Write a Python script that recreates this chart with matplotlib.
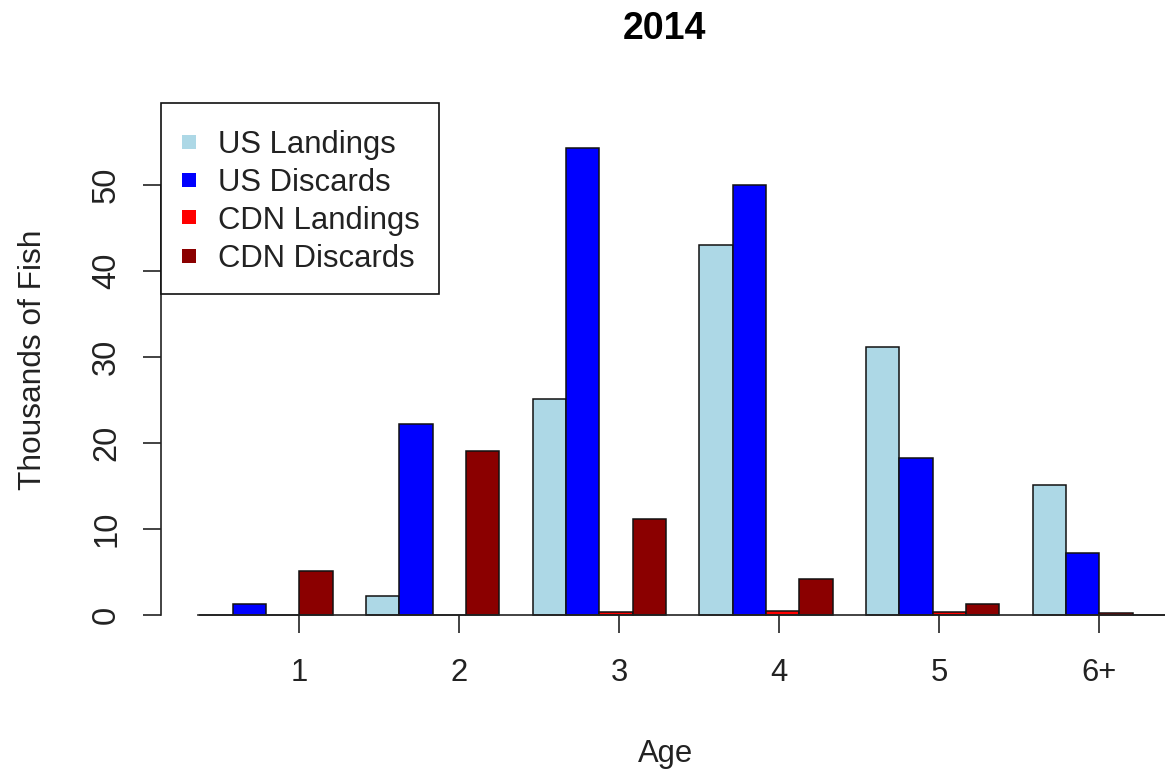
import numpy as np
import matplotlib
matplotlib.use("Agg")
import matplotlib.pyplot as plt
from matplotlib.patches import Rectangle

plt.rcParams['font.family'] = ['Liberation Sans', 'DejaVu Sans']

# ---- data ----
ages = ["1", "2", "3", "4", "5", "6+"]
series_names = ["US Landings", "US Discards", "CDN Landings", "CDN Discards"]
us_landings = [0.0, 2.1, 25.1, 43.0, 31.1, 15.1]
us_discards = [1.2, 22.1, 54.2, 50.0, 18.2, 7.2]
cdn_landings = [0.0, 0.0, 0.25, 0.45, 0.25, 0.2]
cdn_discards = [5.1, 19.0, 11.1, 4.1, 1.2, 0.0]
tick_pos = [4.0, 8.8, 13.6, 18.4, 23.2, 28.0]
y_ticks = [0, 10, 20, 30, 40, 50]
colors = ["#ADD8E6", "#0000FF", "#FF0000", "#8B0000"]

W, H = 1165, 772
def fx(px): return px / W
def fy(py): return 1 - py / H

fig = plt.figure(figsize=(W / 100, H / 100), dpi=100)
# axes region in pixels
L, R, T, B = 161, 1169, 101, 635
ax = fig.add_axes([fx(L), fy(B), (R - L) / W, (B - T) / H])

u_px = 33.33          # px per bar unit
u1_px = 199.4         # px of unit 1
y0_px, y_px = 614.5, 8.6
ax.set_xlim(1 - (u1_px - L) / u_px, 1 + (R - u1_px) / u_px)
ax.set_ylim(-(B - y0_px) / y_px, (y0_px - T) / y_px)

series = [us_landings, us_discards, cdn_landings, cdn_discards]
n_groups = len(ages)
group_start = 1 + 5 * np.arange(n_groups)
for s, (vals, col) in enumerate(zip(series, colors)):
    ax.bar(group_start + s + 0.5, vals, width=1.0, color=col,
           edgecolor="#111111", linewidth=1.1, zorder=2)

for side in ["top", "right"]:
    ax.spines[side].set_visible(False)
ax.spines["left"].set_bounds(0, 50)
ax.spines["left"].set_linewidth(1.2)
ax.spines["left"].set_color("#222222")
ax.spines["bottom"].set_position(("data", 0))
ax.spines["bottom"].set_bounds(0.96, 32)
ax.spines["bottom"].set_linewidth(1.2)
ax.spines["bottom"].set_color("#222222")
ax.spines["bottom"].set_zorder(3)

ax.set_xticks(tick_pos)
ax.set_xticklabels(ages)
ax.set_yticks(y_ticks)
ax.set_yticklabels([str(v) for v in y_ticks], rotation=90, va="center")
ax.tick_params(axis="x", length=13, width=1.2, color="#222222", pad=18,
               labelsize=22.3, labelcolor="#222222")
ax.tick_params(axis="y", length=13, width=1.2, color="#222222", pad=15,
               labelsize=23.5, labelcolor="#222222")

# titles
fig.text(fx(665), fy(39.3), "2014", ha="center", va="baseline",
         fontsize=27, fontweight="bold", color="black")
fig.text(fx(665.5), fy(761.7), "Age", ha="center", va="baseline",
         fontsize=22.3, color="#222222")
fig.text(fx(40.7), fy(359.5), "Thousands of Fish", ha="center", va="baseline",
         rotation=90, rotation_mode="anchor", fontsize=22.8, color="#222222")

# legend (box with coloured squares)
fig.add_artist(Rectangle((fx(161), fy(294)), (439 - 161) / W, (294 - 103) / H,
                         transform=fig.transFigure, facecolor="white",
                         edgecolor="#111111", linewidth=1.2, zorder=5))
for i, (name, col) in enumerate(zip(series_names, colors)):
    yc = 141.5 + 38 * i
    sz = 14
    fig.add_artist(Rectangle((fx(188.7 - sz / 2), fy(yc + sz / 2)), sz / W, sz / H,
                             transform=fig.transFigure, facecolor=col,
                             edgecolor="none", zorder=6))
    fig.text(fx(218.3), fy(yc + 11.5), name, ha="left", va="baseline",
             fontsize=22.3, color="#222222", zorder=7)

fig.savefig("out.png", dpi=100)
